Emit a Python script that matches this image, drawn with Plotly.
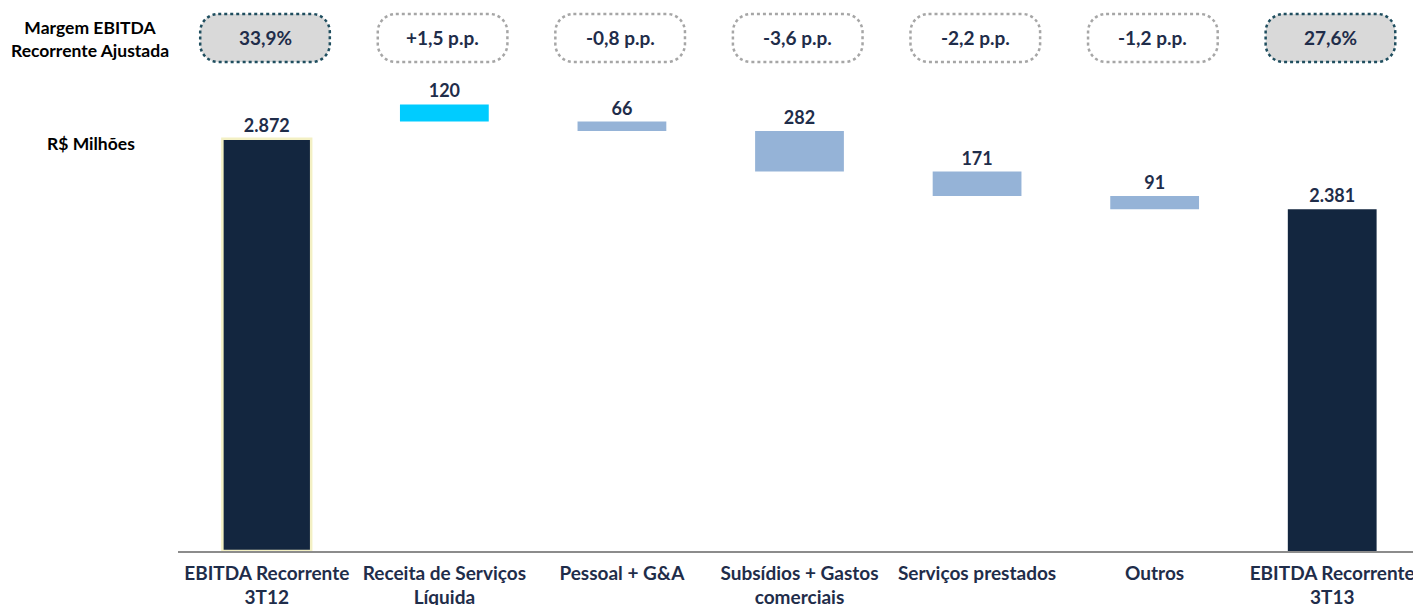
import plotly.graph_objects as go

categories = ["EBITDA Recorrente<br>3T12", "Receita de Serviços<br>Líquida", "Pessoal + G&A",
              "Subsídios + Gastos<br>comerciais", "Serviços prestados", "Outros",
              "EBITDA Recorrente<br>3T13"]
values = [2872, 120, -66, -282, -171, -91, 2381]
measures = ["total", "relative", "relative", "relative", "relative", "relative", "total"]
margins = ["33,9%", "+1,5 p.p.", "-0,8 p.p.", "-3,6 p.p.", "-2,2 p.p.", "-1,2 p.p.", "27,6%"]

NAVY = "#13263F"
TXT = "#1F2D4A"
FONT = "Lato"

# floating bars: base = running total after step, height = |step|
bases, heights, colors = [], [], []
running = 0
for v, m in zip(values, measures):
    if m == "total":
        running = v
        bases.append(0)
        heights.append(v)
        colors.append(NAVY)
    else:
        running += v
        bases.append(running)
        heights.append(abs(v))
        colors.append("#00CCFF" if v > 0 else "#95B3D7")
labels = [f"{abs(v):,}".replace(",", ".") for v in values]
lcolors = ["#F3F0C4"] + ["rgba(0,0,0,0)"] * (len(values) - 1)
lwidths = [2.5] + [0] * (len(values) - 1)

x_idx = list(range(len(categories)))

fig = go.Figure(go.Bar(
    x=x_idx, y=heights, base=bases,
    marker=dict(color=colors, line=dict(color=lcolors, width=lwidths)),
    width=0.5,
    text=labels, textposition="outside",
    textfont=dict(family=FONT, size=18, color=TXT, weight="bold"),
    cliponaxis=False, hoverinfo="skip",
))

# pills
cy = 1.0892
hh = 0.051
rx = 0.1015
ry = 0.0382
hw = 0.365
k = 0.5523
shapes = []
annotations = []
for i, txt in enumerate(margins):
    cx = i - 0.01
    is_total = measures[i] == "total"
    x0, x1 = cx - hw, cx + hw
    y0, y1 = cy - hh, cy + hh
    path = (
        f"M {x0+rx},{y1} L {x1-rx},{y1} "
        f"C {x1-rx+k*rx},{y1} {x1},{y1-ry+k*ry} {x1},{y1-ry} "
        f"L {x1},{y0+ry} "
        f"C {x1},{y0+ry-k*ry} {x1-rx+k*rx},{y0} {x1-rx},{y0} "
        f"L {x0+rx},{y0} "
        f"C {x0+rx-k*rx},{y0} {x0},{y0+ry-k*ry} {x0},{y0+ry} "
        f"L {x0},{y1-ry} "
        f"C {x0},{y1-ry+k*ry} {x0+rx-k*rx},{y1} {x0+rx},{y1} Z"
    )
    shapes.append(dict(
        type="path", path=path, xref="x", yref="paper",
        fillcolor="#D9D9D9" if is_total else "white",
        line=dict(color="#1F4E5F" if is_total else "#A6A6A6", width=2.5, dash="dot"),
        layer="above",
    ))
    annotations.append(dict(
        x=cx, y=cy, xref="x", yref="paper", text=txt, showarrow=False,
        font=dict(family=FONT, size=19, color=TXT, weight="bold"),
        xanchor="center", yanchor="middle",
    ))

annotations.append(dict(
    x=-0.0708, y=cy - 0.003, xref="paper", yref="paper",
    text="Margem EBITDA<br>Recorrente Ajustada", showarrow=False,
    font=dict(family=FONT, size=17.5, color="black", weight="bold"),
    xanchor="center", yanchor="middle", align="center",
))
annotations.append(dict(
    x=-0.07, y=0.866, xref="paper", yref="paper",
    text="R$ Milhões", showarrow=False,
    font=dict(family=FONT, size=17.5, color="black", weight="bold"),
    xanchor="center", yanchor="middle",
))

fig.update_layout(
    width=1413, height=597,
    margin=dict(l=170, r=0, t=72, b=54),
    plot_bgcolor="white", paper_bgcolor="white",
    showlegend=False,
    shapes=shapes, annotations=annotations,
)
fig.update_xaxes(
    tickmode="array", tickvals=x_idx, ticktext=categories,
    range=[-0.5, len(categories) - 0.5],
    showline=True, linecolor="#8C8C8C", linewidth=1.5,
    showgrid=False, zeroline=False, ticks="",
    ticklabelstandoff=4, automargin=False,
    tickfont=dict(family=FONT, size=19, color=TXT, weight="bold"),
)
fig.update_yaxes(range=[0, 3282], visible=False, showgrid=False, zeroline=False)

fig.write_html("out.html")
